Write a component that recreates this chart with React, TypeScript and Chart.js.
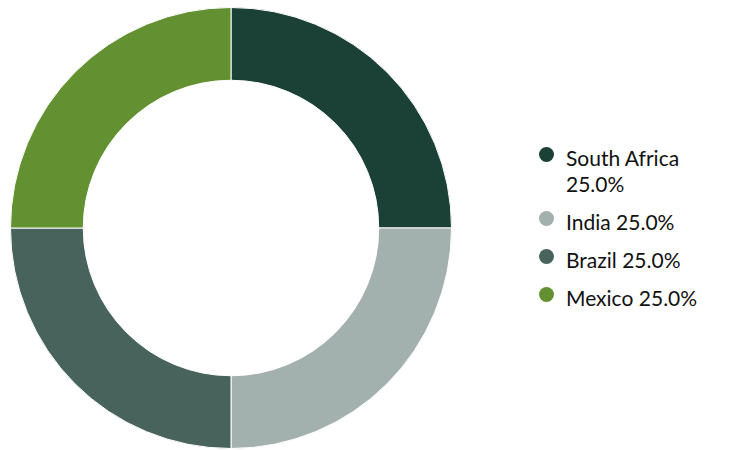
import React, { useEffect, useRef } from 'react';
import { Chart, registerables } from 'chart.js';

Chart.register(...registerables);

const countries = ['South Africa', 'India', 'Brazil', 'Mexico'];
const shares = [25, 25, 25, 25];
const colors = ['#1b4035', '#a3b1ae', '#48635b', '#639132'];

const App: React.FC = () => {
    const chartRef = useRef<HTMLCanvasElement | null>(null);
    const chartInstanceRef = useRef<Chart | null>(null);

    useEffect(() => {
        const canvas = chartRef.current;
        if (!canvas) return;
        if (chartInstanceRef.current) {
            chartInstanceRef.current.destroy();
        }
        chartInstanceRef.current = new Chart(canvas, {
            type: 'doughnut',
            data: {
                labels: countries,
                datasets: [
                    {
                        data: shares,
                        backgroundColor: colors,
                        borderColor: '#ffffff',
                        borderWidth: 1,
                    },
                ],
            },
            options: {
                cutout: '67%',
                responsive: true,
                maintainAspectRatio: false,
                animation: false,
                plugins: {
                    legend: { display: false },
                    tooltip: { enabled: false },
                },
            },
        });

        return () => {
            if (chartInstanceRef.current) {
                chartInstanceRef.current.destroy();
                chartInstanceRef.current = null;
            }
        };
    }, []);

    const total = shares.reduce((a, b) => a + b, 0);

    return (
        <div
            style={{
                position: 'fixed',
                left: 0,
                top: 0,
                width: 750,
                height: 450,
                background: '#ffffff',
                fontFamily: 'Lato, sans-serif',
            }}
        >
            <div style={{ position: 'absolute', left: 10, top: 7, width: 442, height: 442 }}>
                <canvas ref={chartRef} />
            </div>
            <div style={{ position: 'absolute', left: 539, top: 145, width: 200 }}>
                {countries.map((c, i) => (
                    <div
                        key={c}
                        style={{ display: 'flex', alignItems: 'flex-start', marginBottom: 12 }}
                    >
                        <span
                            style={{
                                width: 15,
                                height: 15,
                                borderRadius: '50%',
                                background: colors[i],
                                flex: '0 0 15px',
                                marginTop: 2,
                                marginRight: 12,
                            }}
                        />
                        <span style={{ fontSize: 21, lineHeight: '26px', color: '#111111', width: 150 }}>
                            {c} {((shares[i] / total) * 100).toFixed(1)}%
                        </span>
                    </div>
                ))}
            </div>
        </div>
    );
};

export default App;
